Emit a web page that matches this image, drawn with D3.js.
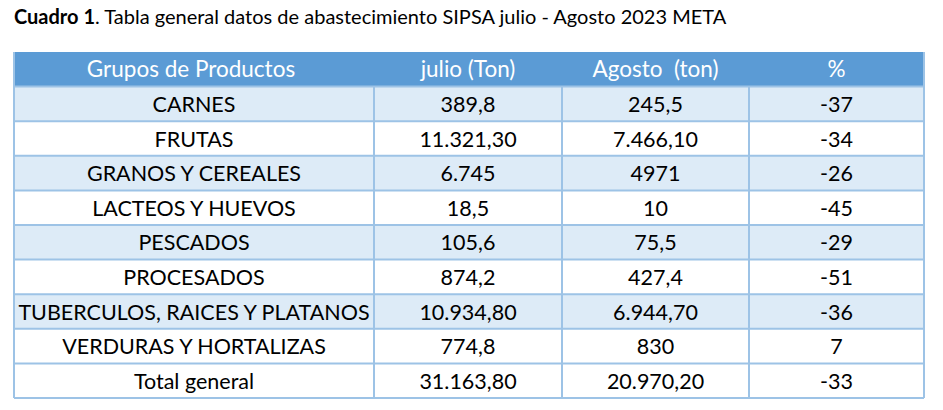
<!DOCTYPE html><html><head><meta charset="utf-8"><script src="https://cdn.jsdelivr.net/npm/d3@7"></script>
<style>body{margin:0;background:#fff}</style></head><body><svg id="c" width="943" height="410"></svg>
<script>
const headers=["Grupos de Productos","julio (Ton)","Agosto  (ton)","%"];
const categories=["CARNES","FRUTAS","GRANOS Y CEREALES","LACTEOS Y HUEVOS","PESCADOS","PROCESADOS","TUBERCULOS, RAICES Y PLATANOS","VERDURAS Y HORTALIZAS","Total general"];
const julio=["389,8","11.321,30","6.745","18,5","105,6","874,2","10.934,80","774,8","31.163,80"];
const agosto=["245,5","7.466,10","4971","10","75,5","427,4","6.944,70","830","20.970,20"];
const pct=["-37","-34","-26","-45","-29","-51","-36","7","-33"];
const svg=d3.select("#c"),F="Lato, 'Open Sans', sans-serif";
const t=svg.append("text").attr("x",14).attr("y",24).attr("font-family",F).attr("font-size",20).attr("fill","#000");
t.append("tspan").attr("font-weight","bold").text("Cuadro 1");
t.append("tspan").text(". Tabla general datos de abastecimiento SIPSA julio - Agosto 2023 META");
const edges=[14,374,562,749,924];
const y=d3.scaleBand().domain(d3.range(-1,categories.length)).range([52,398]);
const rows=[-1,...d3.range(categories.length)];
rows.forEach(r=>{
 svg.append("rect").attr("x",14).attr("y",y(r)).attr("width",910).attr("height",y.bandwidth())
  .attr("fill",r<0?"#5b9bd5":(r%2===0&&r<8?"#ddebf7":"#fff"));
});
rows.forEach(r=>{svg.append("line").attr("x1",14).attr("x2",924).attr("y1",y(r)+y.bandwidth()).attr("y2",y(r)+y.bandwidth()).attr("stroke","#9dc3e6").attr("stroke-width",2);});
svg.append("line").attr("x1",14).attr("x2",14).attr("y1",52).attr("y2",398).attr("stroke","#9dc3e6").attr("stroke-width",2);
svg.append("line").attr("x1",924).attr("x2",924).attr("y1",52).attr("y2",398).attr("stroke","#9dc3e6").attr("stroke-width",2);
[1,2,3].forEach(c=>svg.append("line").attr("x1",edges[c]).attr("x2",edges[c]).attr("y1",y(0)).attr("y2",398).attr("stroke","#9dc3e6").attr("stroke-width",2));
const cols=[categories,julio,agosto,pct];
rows.forEach(r=>{
 [0,1,2,3].forEach(c=>{
  const txt=r<0?headers[c]:cols[c][r];
  svg.append("text").attr("x",(edges[c]+edges[c+1])/2+(c===0?(r<0?-3:0):0)).attr("y",y(r)+y.bandwidth()/2+8)
   .attr("text-anchor","middle").attr("font-family",F).attr("font-size",r<0?22.5:21.5)
   .style("white-space","pre").attr("fill",r<0?"#fff":"#000").text(txt);
 });
});
</script></body></html>
